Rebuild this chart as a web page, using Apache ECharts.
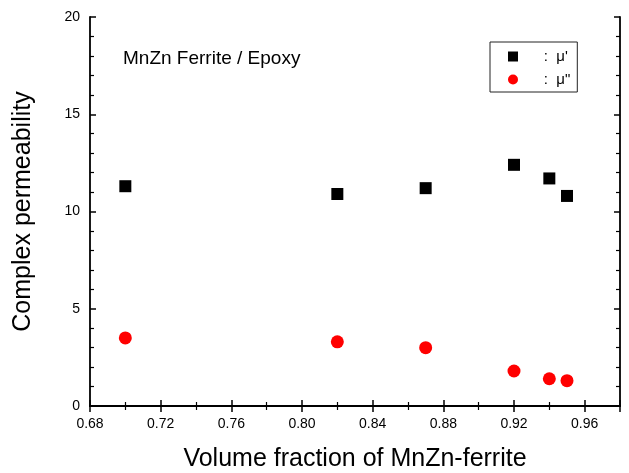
<!DOCTYPE html>
<html>
<head>
<meta charset="utf-8">
<script src="https://cdn.jsdelivr.net/npm/echarts@6/dist/echarts.min.js"></script>
<style>
html,body{margin:0;padding:0;background:#fff;}
#chart{width:629px;height:473px;}
</style>
</head>
<body>
<div id="chart"></div>
<script>
var fraction = [0.70, 0.82, 0.87, 0.92, 0.94, 0.95];
var muReal = [11.3, 10.9, 11.2, 12.4, 11.7, 10.8];
var muImag = [3.5, 3.3, 3.0, 1.8, 1.4, 1.3];

var realPts = [];
var imagPts = [];
for (var i = 0; i < fraction.length; i++) {
    realPts.push([fraction[i], muReal[i]]);
    imagPts.push([fraction[i], muImag[i]]);
}

var font = 'Liberation Sans, Arial, sans-serif';
var axisLine = {show: true, lineStyle: {color: '#000', width: 1.8}};
var majTick = {show: true, inside: true, length: 6, lineStyle: {color: '#000', width: 1.5}};

var option = {
    animation: false,
    grid: {left: 90, right: 9, top: 17, bottom: 67, outerBoundsMode: 'none'},
    title: {
        text: 'MnZn Ferrite / Epoxy',
        left: 118, top: 44,
        textStyle: {fontFamily: font, fontSize: 19, fontWeight: 'normal', color: '#000'}
    },
    legend: {
        orient: 'vertical',
        left: 490, top: 42,
        padding: [7, 7, 5, 18],
        borderColor: '#222', borderWidth: 1,
        itemWidth: 10, itemHeight: 10, itemGap: 8,
        textStyle: {fontFamily: font, fontSize: 15, color: '#000'},
        formatter: function (name) {
            return name === 'real' ? '     :  μ\'' : '     :  μ"';
        },
        data: [{name: 'real', icon: 'rect'}, {name: 'imag', icon: 'circle'}]
    },
    xAxis: [{
        type: 'value', min: 0.68, max: 0.98, interval: 0.04,
        name: 'Volume fraction of MnZn-ferrite',
        nameLocation: 'middle', nameGap: 41,
        nameTextStyle: {fontFamily: font, fontSize: 25, color: '#000'},
        axisLine: axisLine,
        axisTick: majTick,
        minorTick: {show: true, splitNumber: 2, length: 4, lineStyle: {color: '#000', width: 1.2}},
        splitLine: {show: false},
        axisLabel: {
            fontFamily: font, fontSize: 14, color: '#000', margin: 11,
            formatter: function (v) { return v > 0.975 ? '' : v.toFixed(2); }
        }
    }, {
        type: 'value', min: 0.68, max: 0.98, interval: 0.04, position: 'top',
        axisLine: axisLine,
        axisTick: majTick,
        minorTick: {show: true, splitNumber: 2, length: 4, lineStyle: {color: '#000', width: 1.2}},
        splitLine: {show: false},
        axisLabel: {show: false}
    }],
    yAxis: [{
        type: 'value', min: 0, max: 20, interval: 5,
        name: 'Complex permeability',
        nameLocation: 'middle', nameGap: 54,
        nameTextStyle: {fontFamily: font, fontSize: 25, color: '#000'},
        axisLine: axisLine,
        axisTick: majTick,
        minorTick: {show: true, splitNumber: 5, length: 4, lineStyle: {color: '#000', width: 1.2}},
        splitLine: {show: false},
        axisLabel: {fontFamily: font, fontSize: 14, color: '#000', margin: 10}
    }, {
        type: 'value', min: 0, max: 20, interval: 5, position: 'right',
        axisLine: axisLine,
        axisTick: majTick,
        minorTick: {show: true, splitNumber: 5, length: 4, lineStyle: {color: '#000', width: 1.2}},
        splitLine: {show: false},
        axisLabel: {show: false}
    }],
    series: [{
        name: 'real', type: 'scatter', symbol: 'rect', symbolSize: 12,
        itemStyle: {color: '#000', opacity: 1},
        data: realPts
    }, {
        name: 'imag', type: 'scatter', symbol: 'circle', symbolSize: 13,
        itemStyle: {color: '#ff0000', opacity: 1},
        data: imagPts
    }]
};

echarts.init(document.getElementById('chart')).setOption(option);
</script>
</body>
</html>
